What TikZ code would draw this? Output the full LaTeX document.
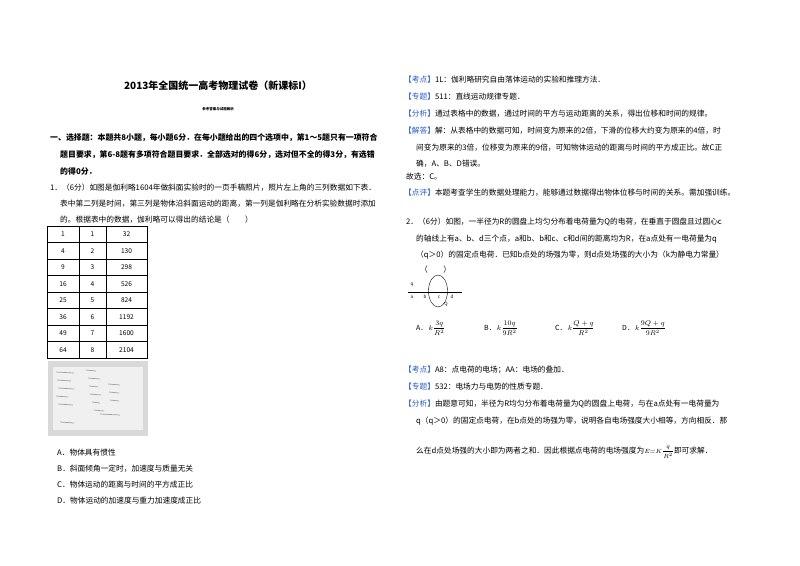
\documentclass[tikz,border=0pt]{standalone}
\usepackage{fontspec}
\setmainfont{Noto Sans CJK SC}
\usetikzlibrary{shapes.geometric}
\definecolor{tagblue}{RGB}{40,90,200}
\newcommand{\tag}[1]{\textcolor{tagblue}{【#1】}}
\tikzset{
  txt/.style={anchor=west, inner sep=0pt, font=\fontsize{7.7}{8}\selectfont},
  bold/.style={txt, font=\fontsize{7.9}{8}\selectfont\bfseries},
  cell/.style={inner sep=0pt, font=\fontsize{6.6}{8}\selectfont},
  opt/.style={anchor=west, inner sep=0pt, font=\fontsize{7}{8}\selectfont}
}
\begin{document}
\begin{tikzpicture}[x=1pt,y=-1pt]
\useasboundingbox[fill=white] (0,0) rectangle (800,565);
% left column
\node[inner sep=0pt, font=\fontsize{10}{12}\selectfont\bfseries] (title) at (218,86) {2013年全国统一高考物理试卷（新课标I）};
\node[inner sep=0pt, font=\fontsize{3.5}{4}\selectfont\bfseries] (sub) at (218,109) {参考答案与试题解析};
\node[bold] (s1) at (50,138) {一、选择题：本题共8小题，每小题6分．在每小题给出的四个选项中，第1～5题只有一项符合};
\node[bold] (s2) at (60,155) {题目要求，第6-8题有多项符合题目要求．全部选对的得6分，选对但不全的得3分，有选错};
\node[bold] (s3) at (60,172) {的得0分．};
\node[txt] (q1a) at (50,188) {1．（6分）如图是伽利略1604年做斜面实验时的一页手稿照片，照片左上角的三列数据如下表．};
\node[txt] (q1b) at (60,204) {表中第二列是时间，第三列是物体沿斜面运动的距离，第一列是伽利略在分析实验数据时添加};
\node[txt] (q1c) at (60,220) {的。根据表中的数据，伽利略可以得出的结论是（\quad\quad）};
% table
\draw[thick] (47,226) rectangle (147,358);
\draw[thick] (79,226) -- (79,358) (106,226) -- (106,358);
\foreach \i in {1,...,7} \draw[thick] (47,226+16.5*\i) -- (147,226+16.5*\i);
\foreach \a/\b/\c [count=\i] in {1/1/32,4/2/130,9/3/298,16/4/526,25/5/824,36/6/1192,49/7/1600,64/8/2104}{
  \node[cell] (ta\i) at (63,217.75+16.5*\i) {\a};
  \node[cell] (tb\i) at (92.5,217.75+16.5*\i) {\b};
  \node[cell] (tc\i) at (126.5,217.75+16.5*\i) {\c};
}
% manuscript photo
\fill[gray!30] (48,361) rectangle (148,436);
\fill[gray!12] (53,367) rectangle (143,430);
\foreach \x/\y/\l in {56/372/18,57/380/14,58/388/16,56/396/12,58/404/15,86/370/10,88/378/12,89/386/9,90/394/11,92/402/8,94/410/10,108/384/12,109/392/10,110/400/9,100/414/20,60/422/14}
  \draw[gray!75, line width=0.7pt] (\x,\y) -- ++(\l,1);
\node[txt] (oa) at (57,453) {A．物体具有惯性};
\node[txt] (ob) at (57,469) {B．斜面倾角一定时，加速度与质量无关};
\node[txt] (oc) at (57,485) {C．物体运动的距离与时间的平方成正比};
\node[txt] (od) at (57,501) {D．物体运动的加速度与重力加速度成正比};
% right column
\node[txt] (k1) at (404,80) {\tag{考点}1L：伽利略研究自由落体运动的实验和推理方法．};
\node[txt] (z1) at (404,97) {\tag{专题}511：直线运动规律专题．};
\node[txt] (f1) at (404,114) {\tag{分析}通过表格中的数据，通过时间的平方与运动距离的关系，得出位移和时间的规律。};
\node[txt] (j1) at (404,131) {\tag{解答}解：从表格中的数据可知，时间变为原来的2倍，下滑的位移大约变为原来的4倍，时};
\node[txt] (j2) at (416,148) {间变为原来的3倍，位移变为原来的9倍，可知物体运动的距离与时间的平方成正比。故C正};
\node[txt] (j3) at (416,164) {确，A、B、D错误。};
\node[txt] (g1) at (406,177) {故选：C。};
\node[txt] (d1) at (404,193) {\tag{点评}本题考查学生的数据处理能力，能够通过数据得出物体位移与时间的关系。需加强训练。};
\node[txt] (q2a) at (406,222) {2．（6分）如图，一半径为R的圆盘上均匀分布着电荷量为Q的电荷，在垂直于圆盘且过圆心c};
\node[txt] (q2b) at (416,239) {的轴线上有a、b、d三个点，a和b、b和c、c和d间的距离均为R，在a点处有一电荷量为q};
\node[txt] (q2c) at (416,255) {（q＞0）的固定点电荷．已知b点处的场强为零，则d点处场强的大小为（k为静电力常量）};
\node[txt] (q2d) at (420,270) {（\quad\quad）};
% disc figure
\coordinate (axl) at (408,292);
\coordinate (axr) at (462,292);
\draw[thin] (axl) -- (axr);
\node[draw, thin, ellipse, minimum width=19pt, minimum height=32pt, inner sep=0pt] (disc) at (438,291) {};
\foreach \n/\x in {a/412,b/425,c/439,d/452}{
  \node[inner sep=0pt, font=\fontsize{4.5}{5}\selectfont\itshape] (p\n) at (\x,297) {\n};
}
\node[inner sep=0pt, font=\fontsize{4.5}{5}\selectfont\itshape] (pq) at (412,285) {q};
\node[inner sep=0pt, font=\fontsize{4.5}{5}\selectfont\itshape] (pQ) at (446,304) {Q};
\node[opt] (ca) at (416,328) {A．\,$k\displaystyle\frac{3q}{R^2}$};
\node[opt] (cb) at (484,328) {B．\,$k\displaystyle\frac{10q}{9R^2}$};
\node[opt] (cc) at (555,328) {C．\,$k\displaystyle\frac{Q+q}{R^2}$};
\node[opt] (cd) at (622,328) {D．\,$k\displaystyle\frac{9Q+q}{9R^2}$};
\node[txt] (k2) at (404,370) {\tag{考点}A8：点电荷的电场；AA：电场的叠加．};
\node[txt] (z2) at (404,387) {\tag{专题}532：电场力与电势的性质专题．};
\node[txt] (f2) at (404,404) {\tag{分析}由题意可知，半径为R均匀分布着电荷量为Q的圆盘上电荷，与在a点处有一电荷量为};
\node[txt] (f3) at (416,421) {q（q＞0）的固定点电荷，在b点处的场强为零，说明各自电场强度大小相等，方向相反．那};
\node[txt] (f4) at (416,452) {么在d点处场强的大小即为两者之和．因此根据点电荷的电场强度为{\fontsize{6}{6}\selectfont$E{=}K\displaystyle\frac{q}{R^2}$}即可求解．};
\end{tikzpicture}
\end{document}
